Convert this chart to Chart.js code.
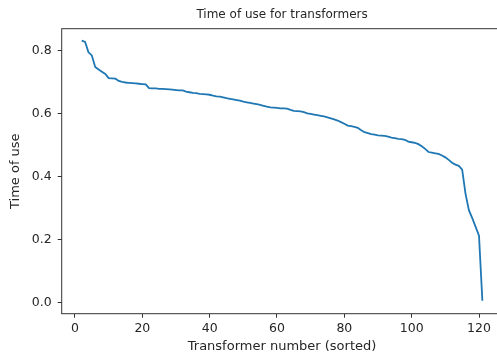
<!DOCTYPE html>
<html>
<head>
<meta charset="utf-8">
<script src="https://cdn.jsdelivr.net/npm/chart.js@4/dist/chart.umd.min.js"></script>
<style>
  html, body { margin: 0; padding: 0; background: #fff; overflow: hidden; }
</style>
</head>
<body>
<canvas id="chart" width="503" height="357"></canvas>
<script>
// Time of use per transformer, sorted descending (transformers 2..121)
const firstTransformer = 2;
const timeOfUse = [
  0.832, 0.828, 0.795, 0.785, 0.748, 0.740, 0.733, 0.726, 0.713, 0.712,
  0.711, 0.704, 0.701, 0.699, 0.698, 0.697, 0.696, 0.695, 0.694, 0.693,
  0.681, 0.680, 0.680, 0.679, 0.679, 0.678, 0.677, 0.676, 0.675, 0.674,
  0.674, 0.670, 0.668, 0.666, 0.665, 0.663, 0.662, 0.661, 0.660, 0.657,
  0.655, 0.654, 0.652, 0.649, 0.647, 0.645, 0.643, 0.641, 0.638, 0.636,
  0.634, 0.632, 0.630, 0.628, 0.625, 0.622, 0.620, 0.619, 0.618, 0.617,
  0.617, 0.616, 0.612, 0.609, 0.608, 0.607, 0.605, 0.601, 0.599, 0.597,
  0.595, 0.593, 0.591, 0.588, 0.585, 0.582, 0.578, 0.573, 0.568, 0.562,
  0.560, 0.558, 0.555, 0.547, 0.541, 0.538, 0.535, 0.533, 0.531, 0.530,
  0.529, 0.527, 0.524, 0.522, 0.520, 0.519, 0.517, 0.511, 0.509, 0.507,
  0.503, 0.496, 0.488, 0.478, 0.476, 0.474, 0.472, 0.467, 0.461, 0.453,
  0.444, 0.438, 0.434, 0.422, 0.345, 0.293, 0.268, 0.240, 0.212, 0.005
];
const xTicks = [0, 20, 40, 60, 80, 100, 120];
const yTicks = [0.0, 0.2, 0.4, 0.6, 0.8];

const titleText = 'Time of use for transformers';
const xLabel = 'Transformer number (sorted)';
const yLabel = 'Time of use';

const points = timeOfUse.map((v, i) => ({ x: firstTransformer + i, y: v }));

const fontFamily = '"DejaVu Sans", sans-serif';
const ink = '#262626';

// frame round the plot + title centred over it
const framePlugin = {
    id: 'frame',
    afterDraw(chart) {
        const { ctx, chartArea: a } = chart;
        ctx.save();
        ctx.strokeStyle = '#333';
        ctx.lineWidth = 1;
        ctx.strokeRect(a.left, a.top, a.right - a.left, a.bottom - a.top);
        ctx.fillStyle = ink;
        ctx.font = '12px ' + fontFamily;
        ctx.textAlign = 'center';
        ctx.textBaseline = 'middle';
        ctx.fillText(titleText, (a.left + a.right) / 2, 14.5);
        ctx.restore();
    }
};

new Chart(document.getElementById('chart'), {
    type: 'line',
    data: {
        datasets: [{
            data: points,
            borderColor: '#1f77b4',
            borderWidth: 1.8,
            pointRadius: 0,
            tension: 0,
            fill: false
        }]
    },
    options: {
        responsive: false,
        animation: false,
        layout: { padding: { top: 28.7, right: 0.6, left: 0, bottom: 0 } },
        plugins: {
            legend: { display: false },
            tooltip: { enabled: false }
        },
        scales: {
            x: {
                type: 'linear',
                min: -3.95,
                max: 126.95,
                afterBuildTicks: s => { s.ticks = xTicks.map(v => ({ value: v })); },
                afterFit: s => { s.height = 43.3; },
                border: { display: false },
                grid: { drawOnChartArea: false, drawTicks: true, tickLength: 4, color: '#333' },
                ticks: { color: ink, font: { family: fontFamily, size: 12.5 }, padding: 4, maxRotation: 0 },
                title: { display: true, text: xLabel, color: ink, font: { family: fontFamily, size: 13 }, padding: { top: 0, bottom: 2.5 } }
            },
            y: {
                type: 'linear',
                min: -0.036,
                max: 0.870,
                afterBuildTicks: s => { s.ticks = yTicks.map(v => ({ value: v })); },
                afterFit: s => { s.width = 61.7; },
                border: { display: false },
                grid: { drawOnChartArea: false, drawTicks: true, tickLength: 4, color: '#333' },
                ticks: { color: ink, font: { family: fontFamily, size: 12.5 }, padding: 6, callback: v => v.toFixed(1) },
                title: { display: true, text: yLabel, color: ink, font: { family: fontFamily, size: 13 }, padding: { top: 8.2, bottom: 0 } }
            }
        }
    },
    plugins: [framePlugin]
});
</script>
</body>
</html>
